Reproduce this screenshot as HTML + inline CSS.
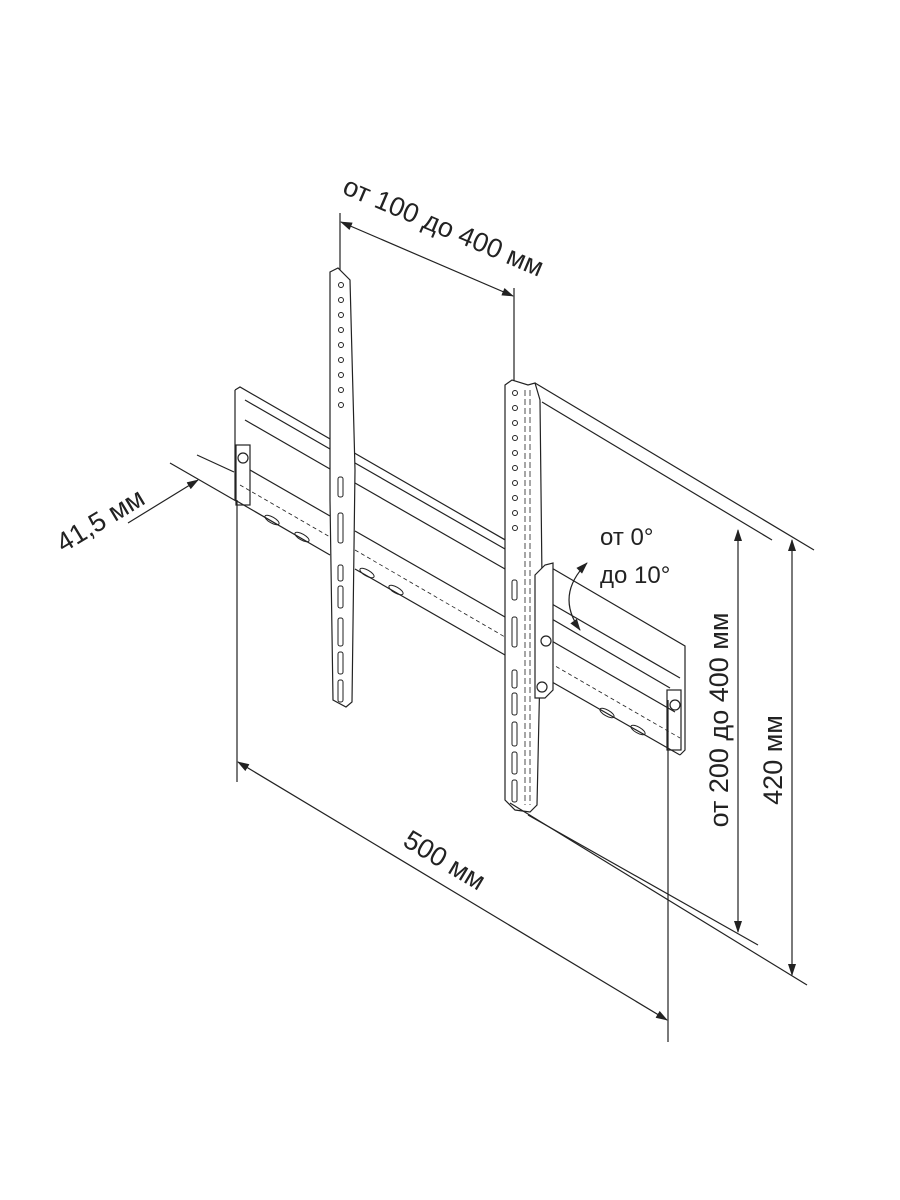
<!DOCTYPE html>
<html><head><meta charset="utf-8"><style>
html,body{margin:0;padding:0;background:#fff;}
svg{display:block}
text{font-family:"Liberation Sans","DejaVu Sans",sans-serif;fill:#222;}
</style></head><body>
<svg width="900" height="1200" viewBox="0 0 900 1200" xmlns="http://www.w3.org/2000/svg">
<defs>
<marker id="a" markerWidth="12" markerHeight="8" refX="11" refY="4" orient="auto" markerUnits="userSpaceOnUse"><path d="M0,0 L12,4 L0,8 z" fill="#222"/></marker>
<marker id="b" markerWidth="12" markerHeight="8" refX="1" refY="4" orient="auto" markerUnits="userSpaceOnUse"><path d="M12,0 L0,4 L12,8 z" fill="#222"/></marker>
</defs>
<g stroke="#222" fill="none" stroke-width="1.2">
<!-- top dimension -->
<line x1="340" y1="213" x2="340" y2="275"/>
<line x1="514" y1="288" x2="514" y2="382"/>
<line x1="341" y1="222" x2="513" y2="296" marker-start="url(#b)" marker-end="url(#a)"/>
<!-- rail -->
<path d="M235,390 L240,387 L540,560"/>
<path d="M550,567 L685,646 L685,750 L680,755"/>
<line x1="235" y1="390" x2="235" y2="500"/>
<line x1="245" y1="400" x2="330" y2="449"/>
<line x1="355" y1="463" x2="505" y2="549"/>
<line x1="245" y1="420" x2="330" y2="469"/>
<line x1="355" y1="483" x2="505" y2="569"/>
<line x1="235" y1="500" x2="330" y2="555"/>
<line x1="355" y1="569" x2="505" y2="655"/>
<line x1="545" y1="678" x2="680" y2="755"/>
<line x1="250" y1="470" x2="330" y2="516"/>
<line x1="355" y1="531" x2="505" y2="617"/>
<line x1="550" y1="640" x2="675" y2="712"/>
<line x1="545" y1="600" x2="680" y2="678"/>
<line x1="545" y1="615" x2="670" y2="688"/>
<path d="M240,485 L330,537 M355,550 L505,637 M550,663 L680,738" stroke-dasharray="4,3" stroke-width="0.8"/>
<!-- slots -->
<g stroke-width="1">
<ellipse cx="272" cy="520" rx="8" ry="3" transform="rotate(30 272 520)"/>
<ellipse cx="302" cy="537" rx="8" ry="3" transform="rotate(30 302 537)"/>
<ellipse cx="367" cy="573" rx="8" ry="3" transform="rotate(30 367 573)"/>
<ellipse cx="396" cy="590" rx="8" ry="3" transform="rotate(30 396 590)"/>
<ellipse cx="607" cy="713" rx="8" ry="3" transform="rotate(30 607 713)"/>
<ellipse cx="638" cy="730" rx="8" ry="3" transform="rotate(30 638 730)"/>
</g>
<!-- left knob -->
<rect x="236" y="445" width="14" height="60"/>
<circle cx="243" cy="458" r="5"/>
<!-- right knob -->
<rect x="667" y="690" width="14" height="60"/>
<circle cx="675" cy="705" r="5"/>
<!-- left strip -->
<path d="M330,272 L338,268 L350,280 L355,470 L352,702 L346,707 L333,700 L330,500 Z" fill="#fff"/>
<g fill="none" stroke-width="1">
<circle cx="341" cy="285" r="2.5"/><circle cx="341" cy="300" r="2.5"/><circle cx="341" cy="315" r="2.5"/><circle cx="341" cy="330" r="2.5"/><circle cx="341" cy="345" r="2.5"/><circle cx="341" cy="360" r="2.5"/><circle cx="341" cy="375" r="2.5"/><circle cx="341" cy="390" r="2.5"/><circle cx="341" cy="405" r="2.5"/>
<rect x="338" y="477" width="5" height="20" rx="2"/>
<rect x="338" y="513" width="5" height="30" rx="2"/>
<rect x="338" y="565" width="5" height="16" rx="2"/>
<rect x="338" y="586" width="5" height="22" rx="2"/>
<rect x="338" y="618" width="5" height="28" rx="2"/>
<rect x="338" y="652" width="5" height="22" rx="2"/>
<rect x="338" y="680" width="5" height="22" rx="2"/>
</g>
<!-- right strip -->
<path d="M505,385 L512,380 L528,385 L535,383 L540,400 L542,580 L537,805 L530,812 L515,810 L505,800 L505,600 Z" fill="#fff"/>
<line x1="525" y1="390" x2="525" y2="805" stroke-dasharray="6,3" stroke-width="0.8"/>
<line x1="530" y1="390" x2="530" y2="805" stroke-dasharray="6,3" stroke-width="0.8"/>
<g stroke-width="1">
<circle cx="515" cy="393" r="2.5"/><circle cx="515" cy="408" r="2.5"/><circle cx="515" cy="423" r="2.5"/><circle cx="515" cy="438" r="2.5"/><circle cx="515" cy="453" r="2.5"/><circle cx="515" cy="468" r="2.5"/><circle cx="515" cy="483" r="2.5"/><circle cx="515" cy="498" r="2.5"/><circle cx="515" cy="513" r="2.5"/><circle cx="515" cy="528" r="2.5"/>
<rect x="512" y="580" width="5" height="20" rx="2"/>
<rect x="512" y="617" width="5" height="30" rx="2"/>
<rect x="512" y="670" width="5" height="18" rx="2"/>
<rect x="512" y="693" width="5" height="22" rx="2"/>
<rect x="512" y="722" width="5" height="24" rx="2"/>
<rect x="512" y="752" width="5" height="22" rx="2"/>
<rect x="512" y="780" width="5" height="22" rx="2"/>
</g>
<!-- tilt bracket -->
<path d="M535,575 L545,565 L553,563 L553,690 L545,698 L535,698 Z" fill="#fff"/>
<circle cx="546" cy="641" r="5"/>
<circle cx="542" cy="687" r="5"/>
<path d="M587,563 Q555,595 580,630" marker-start="url(#b)" marker-end="url(#a)"/>
<!-- right long extension lines -->
<line x1="535" y1="383" x2="814" y2="550"/>
<line x1="542" y1="402" x2="772" y2="540"/>
<line x1="510" y1="803" x2="807" y2="985"/>
<line x1="528" y1="815" x2="758" y2="945"/>
<!-- vertical dims -->
<line x1="738" y1="530" x2="738" y2="932" marker-start="url(#b)" marker-end="url(#a)" transform=""/>
<line x1="792" y1="540" x2="792" y2="975" marker-start="url(#b)" marker-end="url(#a)"/>
<!-- 500 dim -->
<line x1="237" y1="500" x2="237" y2="782"/>
<line x1="668" y1="700" x2="668" y2="1042"/>
<line x1="238" y1="762" x2="667" y2="1020" marker-start="url(#b)" marker-end="url(#a)"/>
<!-- 41.5 dim -->
<line x1="170" y1="463" x2="236" y2="501"/>
<line x1="197" y1="455" x2="234" y2="472"/>
<line x1="128" y1="523" x2="198" y2="480" marker-end="url(#a)"/>
</g>
<text x="440" y="235" font-size="27" text-anchor="middle" transform="rotate(23 440 235)">от 100 до 400 мм</text>
<text x="440" y="868" font-size="27" text-anchor="middle" transform="rotate(31 440 868)">500 мм</text>
<text x="105" y="528" font-size="27" text-anchor="middle" transform="rotate(-31 105 528)">41,5 мм</text>
<text x="728" y="720" font-size="27" text-anchor="middle" transform="rotate(-90 728 720)">от 200 до 400 мм</text>
<text x="782" y="760" font-size="27" text-anchor="middle" transform="rotate(-90 782 760)">420 мм</text>
<text x="600" y="545" font-size="24">от 0°</text>
<text x="600" y="583" font-size="24">до 10°</text>
</svg>
</body></html>
